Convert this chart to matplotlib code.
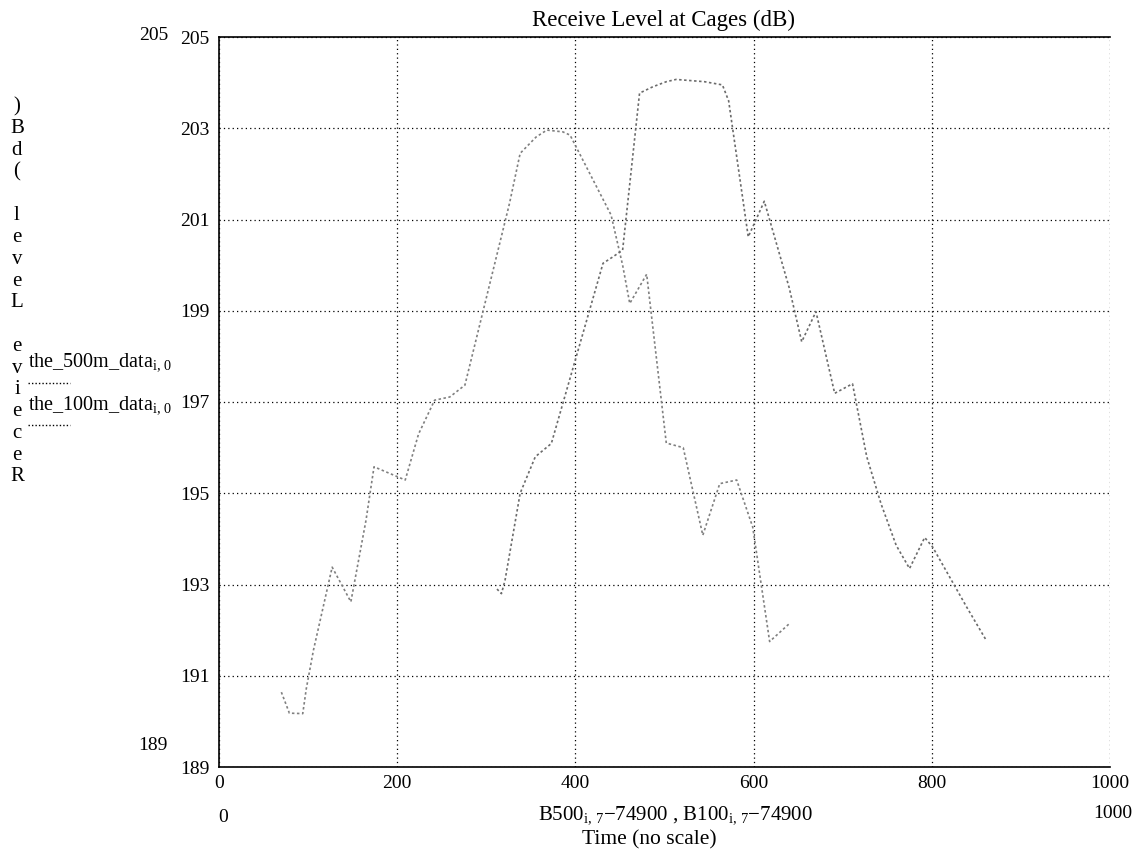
import matplotlib
matplotlib.use("Agg")
import matplotlib.pyplot as plt
from matplotlib.lines import Line2D

plt.rcParams["font.family"] = ["Liberation Serif", "DejaVu Serif"]
plt.rcParams["mathtext.fontset"] = "custom"
plt.rcParams["mathtext.rm"] = "Liberation Serif"
plt.rcParams["mathtext.it"] = "Liberation Serif"

# time axis (B500/B100 minus 74900) and receive levels
x_500m = [70, 79, 94, 98, 106, 127, 148, 165, 174, 209, 224, 242, 259, 276,
          326, 338, 356, 368, 386, 394, 440, 453, 461, 480, 502, 521, 543,
          562, 581, 599, 618, 640]
the_500m_data = [190.64, 190.18, 190.17, 190.72, 191.56, 193.38, 192.62, 194.41,
                 195.58, 195.29, 196.3, 197.04, 197.11, 197.37, 201.35, 202.45,
                 202.81, 202.96, 202.92, 202.85, 201.1, 200.0, 199.16, 199.8,
                 196.1, 196.0, 194.08, 195.21, 195.29, 194.26, 191.75, 192.14]

x_100m = [312, 317, 321, 338, 355, 373, 431, 442, 453, 472, 487, 502, 513, 545,
          565, 572, 594, 612, 640, 654, 670, 691, 711, 727, 743, 760, 775, 792,
          801, 839, 861]
the_100m_data = [192.9, 192.8, 193.09, 195.0, 195.8, 196.09, 200.04, 200.18, 200.33,
                 203.77, 203.91, 204.02, 204.07, 204.02, 203.95, 203.6, 200.62,
                 201.4, 199.5, 198.32, 198.98, 197.19, 197.4, 195.8, 194.77,
                 193.86, 193.35, 194.03, 193.82, 192.51, 191.78]

x_ticks = [0, 200, 400, 600, 800, 1000]
y_ticks = [189, 191, 193, 195, 197, 199, 201, 203, 205]
ylabel_chars = ")Bd( leveL evieceR"

W, H = 1147, 856
fig = plt.figure(figsize=(W / 100, H / 100), dpi=100)
ax = fig.add_axes([219 / W, (H - 767) / H, (1110 - 219) / W, (767 - 37) / H])


def fx(px):
    return px / W


def fy(py):
    return 1 - py / H


ax.plot(x_500m, the_500m_data, color="0.5", linestyle=(0, (1.5, 1.5)), linewidth=1.2)
ax.plot(x_100m, the_100m_data, color="0.42", linestyle=(0, (1.5, 1.5)), linewidth=1.2)

ax.set_xlim(0, 1000)
ax.set_ylim(189, 205)
ax.set_xticks(x_ticks)
ax.set_yticks(y_ticks)
ax.tick_params(length=0, labelsize=14, pad=7)
ax.tick_params(axis="x", pad=6)
ax.grid(True, color="black", linestyle=(0, (1, 2.5)), linewidth=0.9)
ax.spines["right"].set_visible(False)
for s in ["left", "bottom", "top"]:
    ax.spines[s].set_linewidth(1.2)

# title and axis texts
fig.text(fx(663), fy(20), "Receive Level at Cages (dB)", ha="center", va="center", fontsize=16.5)
fig.text(fx(168), fy(35), "205", ha="right", va="center", fontsize=14)
fig.text(fx(168), fy(745), "189", ha="right", va="center", fontsize=14)
fig.text(fx(218), fy(817), "0", ha="left", va="center", fontsize=14)
fig.text(fx(1132), fy(814), "1000", ha="right", va="center", fontsize=14)
fig.text(fx(675), fy(815),
         r"B500$_{\mathrm{i,\,7}}$$-$74900 , B100$_{\mathrm{i,\,7}}$$-$74900",
         ha="center", va="center", fontsize=15)
fig.text(fx(649), fy(840), "Time (no scale)", ha="center", va="center", fontsize=15.5)

for i, ch in enumerate(ylabel_chars):
    fig.text(fx(17), fy(107 + i * 21.76), ch, ha="center", va="center", fontsize=15)

# legend
fig.text(fx(28), fy(362), r"the_500m_data$_{\mathrm{i,\,0}}$", ha="left", va="center", fontsize=14.5)
fig.text(fx(28), fy(405), r"the_100m_data$_{\mathrm{i,\,0}}$", ha="left", va="center", fontsize=14.5)
for ly in [383, 425]:
    fig.add_artist(Line2D([fx(28), fx(70)], [fy(ly), fy(ly)], color="black",
                          linestyle=(0, (1, 1.5)), linewidth=1.0))

fig.savefig("out.png", dpi=100)
